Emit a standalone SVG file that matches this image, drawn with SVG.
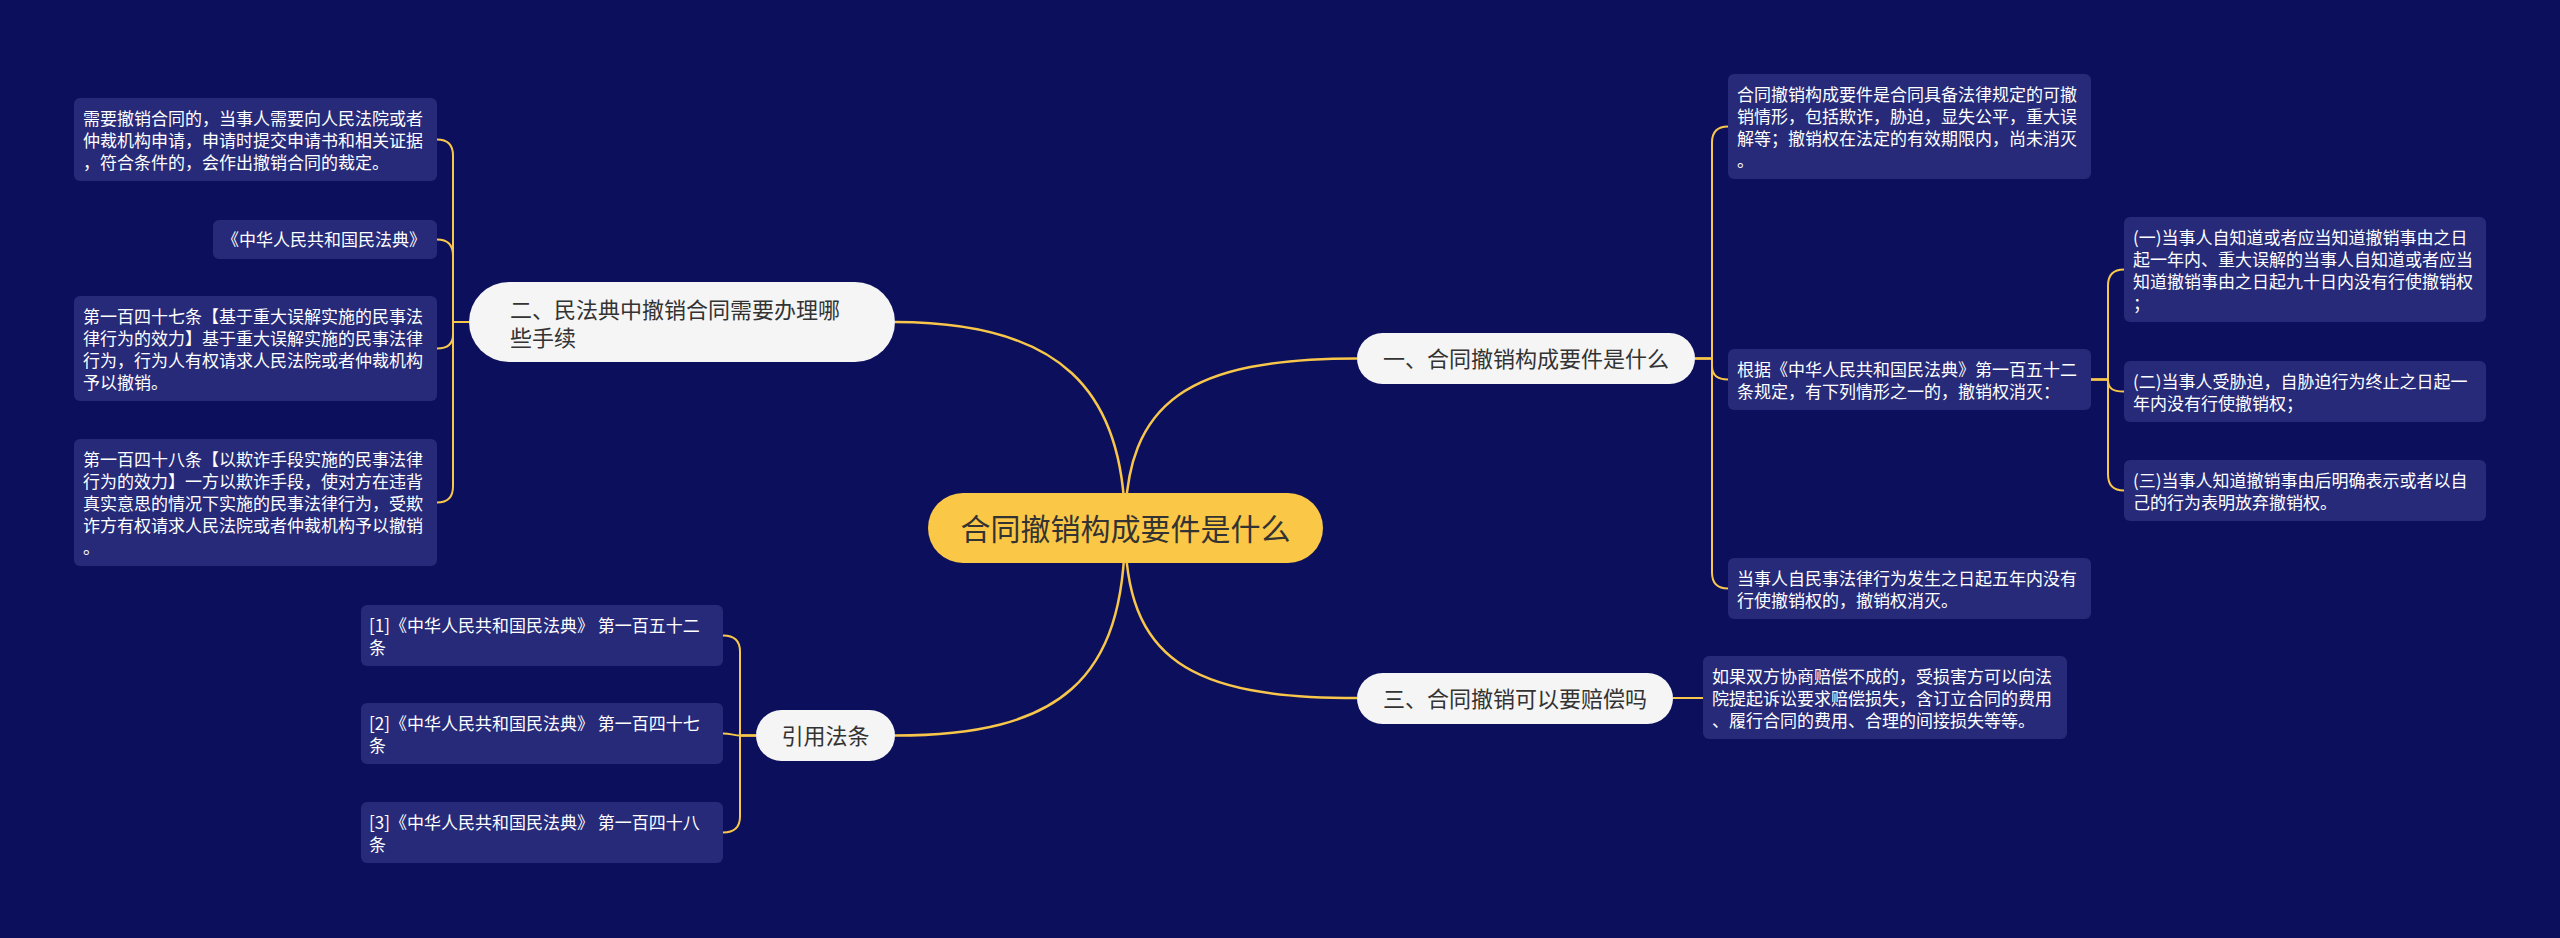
<svg xmlns="http://www.w3.org/2000/svg" width="2560" height="938" viewBox="0 0 2560 938">
<style>
.bg{fill:#0b0f5c}
.leaf rect{fill:#262a78}
.leaf text{font-family:"Noto Sans CJK SC","Noto Sans",sans-serif;font-size:17px;fill:#ffffff}
.branch rect{fill:#f5f5f5}
.branch text{font-family:"Noto Sans CJK SC","Noto Sans",sans-serif;font-size:22px;fill:#333333}
.root rect{fill:#fac746}
.root text{font-family:"Noto Sans CJK SC","Noto Sans",sans-serif;font-size:30px;fill:#333333}
.main{fill:none;stroke:#f7c64a;stroke-width:2.5}
.sub{fill:none;stroke:#f7c64a;stroke-width:2}
</style>
<rect class="bg" x="0" y="0" width="2560" height="938"/>
<g id="connectors">
<path class="main" d="M1125,528 C1125,400 1190,358.5 1357,358.5"/>
<path class="main" d="M1125,528 C1125,390 1060,322 895,322"/>
<path class="main" d="M1125,528 C1125,660 1190,698 1357,698"/>
<path class="main" d="M1125,528 C1125,680 1060,735.5 895,735.5"/>
<path class="sub" d="M1695,358.5 H1712 V142.5 Q1712,126.5 1728,126.5"/>
<path class="sub" d="M1695,358.5 H1712 V366 Q1712,379.5 1728,379.5"/>
<path class="sub" d="M1695,358.5 H1712 V572.5 Q1712,588.5 1728,588.5"/>
<path class="sub" d="M2091,379.5 H2108 V285.5 Q2108,269.5 2124,269.5"/>
<path class="sub" d="M2091,379.5 H2108 C2108,388 2112,391.5 2124,391.5"/>
<path class="sub" d="M2091,379.5 H2108 V474.5 Q2108,490.5 2124,490.5"/>
<path class="sub" d="M1673,698 H1703"/>
<path class="sub" d="M469,322 H453 V155.5 Q453,139.5 437,139.5"/>
<path class="sub" d="M469,322 H453 V255.5 Q453,239.5 437,239.5"/>
<path class="sub" d="M469,322 H453 V334.5 Q453,348.5 437,348.5"/>
<path class="sub" d="M469,322 H453 V486.5 Q453,502.5 437,502.5"/>
<path class="sub" d="M756,735.5 H740 V651.5 Q740,635.5 723,635.5"/>
<path class="sub" d="M756,735.5 H740 C735,735.5 730,733.5 723,733.5"/>
<path class="sub" d="M756,735.5 H740 V816.5 Q740,832.5 723,832.5"/>
</g>
<g id="root" class="root">
<rect x="928" y="493" width="395" height="70" rx="35"/>
<text x="1125.5" y="539.5" text-anchor="middle">合同撤销构成要件是什么</text>
</g>
<g id="b1" class="branch">
<rect x="1357" y="333" width="338" height="51" rx="25.5"/>
<text x="1526" y="367" text-anchor="middle">一、合同撤销构成要件是什么</text>
</g>
<g id="b2" class="branch">
<rect x="469" y="282" width="426" height="80" rx="40"/>
<text x="510" y="317.5">二、民法典中撤销合同需要办理哪</text>
<text x="510" y="345.5">些手续</text>
</g>
<g id="b3" class="branch">
<rect x="1357" y="673" width="316" height="51" rx="25.5"/>
<text x="1515" y="706.5" text-anchor="middle">三、合同撤销可以要赔偿吗</text>
</g>
<g id="b4" class="branch">
<rect x="756" y="710" width="139" height="51" rx="25.5"/>
<text x="825.5" y="744" text-anchor="middle">引用法条</text>
</g>
<g id="r1" class="leaf">
<rect x="1728" y="74" width="363" height="105" rx="6"/>
<text x="1737" y="101">合同撤销构成要件是合同具备法律规定的可撤</text>
<text x="1737" y="123">销情形，包括欺诈，胁迫，显失公平，重大误</text>
<text x="1737" y="145">解等；撤销权在法定的有效期限内，尚未消灭</text>
<text x="1737" y="167">。</text>
</g>
<g id="r2" class="leaf">
<rect x="1728" y="349" width="363" height="61" rx="6"/>
<text x="1737" y="376">根据《中华人民共和国民法典》第一百五十二</text>
<text x="1737" y="398">条规定，有下列情形之一的，撤销权消灭：</text>
</g>
<g id="r3" class="leaf">
<rect x="1728" y="558" width="363" height="61" rx="6"/>
<text x="1737" y="585">当事人自民事法律行为发生之日起五年内没有</text>
<text x="1737" y="607">行使撤销权的，撤销权消灭。</text>
</g>
<g id="r2a" class="leaf">
<rect x="2124" y="217" width="362" height="105" rx="6"/>
<text x="2133" y="244">(一)当事人自知道或者应当知道撤销事由之日</text>
<text x="2133" y="266">起一年内、重大误解的当事人自知道或者应当</text>
<text x="2133" y="288">知道撤销事由之日起九十日内没有行使撤销权</text>
<text x="2133" y="310">；</text>
</g>
<g id="r2b" class="leaf">
<rect x="2124" y="361" width="362" height="61" rx="6"/>
<text x="2133" y="388">(二)当事人受胁迫，自胁迫行为终止之日起一</text>
<text x="2133" y="410">年内没有行使撤销权；</text>
</g>
<g id="r2c" class="leaf">
<rect x="2124" y="460" width="362" height="61" rx="6"/>
<text x="2133" y="487">(三)当事人知道撤销事由后明确表示或者以自</text>
<text x="2133" y="509">己的行为表明放弃撤销权。</text>
</g>
<g id="r4" class="leaf">
<rect x="1703" y="656" width="364" height="83" rx="6"/>
<text x="1712" y="683">如果双方协商赔偿不成的，受损害方可以向法</text>
<text x="1712" y="705">院提起诉讼要求赔偿损失，含订立合同的费用</text>
<text x="1712" y="727">、履行合同的费用、合理的间接损失等等。</text>
</g>
<g id="l1" class="leaf">
<rect x="74" y="98" width="363" height="83" rx="6"/>
<text x="83" y="125">需要撤销合同的，当事人需要向人民法院或者</text>
<text x="83" y="147">仲裁机构申请，申请时提交申请书和相关证据</text>
<text x="83" y="169">，符合条件的，会作出撤销合同的裁定。</text>
</g>
<g id="l2" class="leaf">
<rect x="213" y="220" width="224" height="39" rx="6"/>
<text x="222" y="246">《中华人民共和国民法典》</text>
</g>
<g id="l3" class="leaf">
<rect x="74" y="296" width="363" height="105" rx="6"/>
<text x="83" y="323">第一百四十七条【基于重大误解实施的民事法</text>
<text x="83" y="345">律行为的效力】基于重大误解实施的民事法律</text>
<text x="83" y="367">行为，行为人有权请求人民法院或者仲裁机构</text>
<text x="83" y="389">予以撤销。</text>
</g>
<g id="l4" class="leaf">
<rect x="74" y="439" width="363" height="127" rx="6"/>
<text x="83" y="466">第一百四十八条【以欺诈手段实施的民事法律</text>
<text x="83" y="488">行为的效力】一方以欺诈手段，使对方在违背</text>
<text x="83" y="510">真实意思的情况下实施的民事法律行为，受欺</text>
<text x="83" y="532">诈方有权请求人民法院或者仲裁机构予以撤销</text>
<text x="83" y="554">。</text>
</g>
<g id="ref1" class="leaf">
<rect x="361" y="605" width="362" height="61" rx="6"/>
<text x="369" y="632">[1]《中华人民共和国民法典》 第一百五十二</text>
<text x="369" y="654">条</text>
</g>
<g id="ref2" class="leaf">
<rect x="361" y="703" width="362" height="61" rx="6"/>
<text x="369" y="730">[2]《中华人民共和国民法典》 第一百四十七</text>
<text x="369" y="752">条</text>
</g>
<g id="ref3" class="leaf">
<rect x="361" y="802" width="362" height="61" rx="6"/>
<text x="369" y="829">[3]《中华人民共和国民法典》 第一百四十八</text>
<text x="369" y="851">条</text>
</g>
</svg>
